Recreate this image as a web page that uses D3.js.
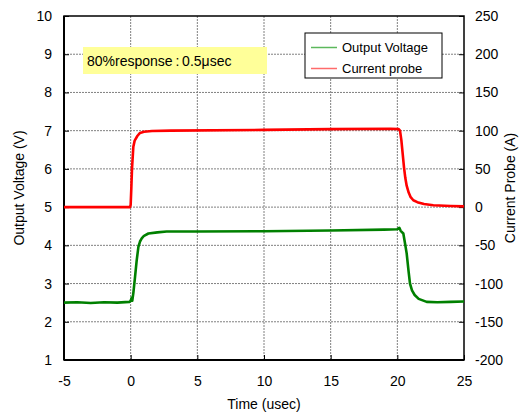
<!DOCTYPE html>
<html>
<head>
<meta charset="utf-8">
<script src="https://d3js.org/d3.v7.min.js"></script>
<style>
  body { margin: 0; background: #fff; }
  text { font-family: Arial, "Liberation Sans", sans-serif; fill: #000; }
</style>
</head>
<body>
<div id="chart"></div>
<script>
// time axis (usec)
var xTicks = [-5, 0, 5, 10, 15, 20, 25];
var yLeftTicks = [1, 2, 3, 4, 5, 6, 7, 8, 9, 10];
var yRightTicks = [-200, -150, -100, -50, 0, 50, 100, 150, 200, 250];

// Output Voltage (V) vs time
var timeV = [-5, -4, -3, -2, -1, -0.1, 0.0, 0.08, 0.12, 0.2, 0.33, 0.45, 0.58, 0.7, 0.83, 1.0, 1.33, 2.0, 2.7, 5, 10, 15, 19, 20, 20.15, 20.25, 20.45, 20.6, 20.7, 20.85, 20.95, 21.1, 21.3, 21.6, 22.2, 23, 24, 25];
var voltage = [2.50, 2.51, 2.49, 2.51, 2.50, 2.52, 2.55, 2.63, 2.55, 2.75, 3.18, 3.6, 3.96, 4.1, 4.18, 4.25, 4.31, 4.34, 4.36, 4.36, 4.37, 4.39, 4.41, 4.42, 4.46, 4.38, 4.31, 4.0, 3.79, 3.3, 3.0, 2.82, 2.7, 2.6, 2.52, 2.51, 2.52, 2.53];

// Current probe (A) vs time
var timeI = [-5, -3, -1, -0.05, 0.0, 0.05, 0.1, 0.2, 0.3, 0.5, 0.7, 1.0, 1.6, 3, 10, 15, 19.5, 20.1, 20.2, 20.3, 20.4, 20.5, 20.6, 20.7, 20.85, 21.0, 21.2, 21.5, 22, 22.7, 24, 25];
var current = [0, 0, 0, 0, 3, 25, 50, 79, 87, 93, 97, 98.5, 99.5, 100, 101, 102, 102.5, 102, 100, 88, 70, 52, 38, 28, 19, 13, 9, 6.5, 4, 2.5, 1.5, 1];

var seriesNames = ["Output Voltage", "Current probe"];
var seriesColors = ["#008000", "#ff0000"];
var legendColors = ["#5cb85c", "#ff6b6b"];

var W = 529, H = 416;
var m = {top: 16, right: 65, bottom: 56, left: 64};
var iw = W - m.left - m.right, ih = H - m.top - m.bottom;

var svg = d3.select("#chart").append("svg")
    .attr("width", W).attr("height", H);
var g = svg.append("g").attr("transform", "translate(" + m.left + "," + m.top + ")");

var x = d3.scaleLinear().domain([-5, 25]).range([0, iw]);
var yL = d3.scaleLinear().domain([1, 10]).range([ih, 0]);
var yR = d3.scaleLinear().domain([-200, 250]).range([ih, 0]);

var fmt = d => String(d);

// grid
g.append("g").selectAll("line").data(xTicks.slice(1, -1)).enter().append("line")
    .attr("x1", d => x(d)).attr("x2", d => x(d)).attr("y1", 0).attr("y2", ih)
    .attr("stroke", "#808080").attr("stroke-width", 1).attr("stroke-dasharray", "2,1");
g.append("g").selectAll("line").data(yLeftTicks.slice(1, -1)).enter().append("line")
    .attr("x1", 0).attr("x2", iw).attr("y1", d => yL(d)).attr("y2", d => yL(d))
    .attr("stroke", "#808080").attr("stroke-width", 1).attr("stroke-dasharray", "2,1");

// axes
var ax = g.append("g").attr("transform", "translate(0," + ih + ")")
    .call(d3.axisBottom(x).tickValues(xTicks).tickFormat(fmt).tickSizeInner(-5).tickSizeOuter(0).tickPadding(16));
var ayl = g.append("g")
    .call(d3.axisLeft(yL).tickValues(yLeftTicks).tickFormat(fmt).tickSizeInner(-5).tickSizeOuter(0).tickPadding(12));
var ayr = g.append("g").attr("transform", "translate(" + iw + ",0)")
    .call(d3.axisRight(yR).tickValues(yRightTicks).tickFormat(fmt).tickSizeInner(-5).tickSizeOuter(0).tickPadding(11));
[ax, ayl, ayr].forEach(function(a){
    a.select(".domain").remove();
    a.selectAll("text").style("font-size", "14px").style("font-family", "Arial, 'Liberation Sans', sans-serif");
    a.selectAll(".tick line").attr("stroke", "#000");
});
ax.selectAll("text").attr("dy", "0.71em");

// frame
g.append("rect").attr("width", iw).attr("height", ih)
    .attr("fill", "none").attr("stroke", "#000").attr("stroke-width", 1.5);
g.append("line").attr("x1", 0).attr("x2", 0).attr("y1", 0).attr("y2", ih)
    .attr("stroke", "#000").attr("stroke-width", 2);
g.append("line").attr("x1", 0).attr("x2", iw).attr("y1", ih).attr("y2", ih)
    .attr("stroke", "#000").attr("stroke-width", 2);

// data lines
var lineV = d3.line().x((d, i) => x(timeV[i])).y(d => yL(d));
var lineI = d3.line().x((d, i) => x(timeI[i])).y(d => yR(d));

g.append("path").datum(voltage).attr("d", lineV)
    .attr("fill", "none").attr("stroke", seriesColors[0]).attr("stroke-width", 2.6)
    .attr("stroke-linejoin", "round");
g.append("path").datum(current).attr("d", lineI)
    .attr("fill", "none").attr("stroke", seriesColors[1]).attr("stroke-width", 2.6)
    .attr("stroke-linejoin", "round");

// annotation
g.append("rect").attr("x", 19).attr("y", 31).attr("width", 184).attr("height", 27)
    .attr("fill", "#ffff99");
g.append("text").attr("x", 23).attr("y", 50).style("font-size", "14px")
    .text("80%response\u2009:\u20090.5\u03BCsec");

// legend
var lg = g.append("g").attr("transform", "translate(" + (305 - m.left) + "," + (33 - m.top) + ")");
lg.append("rect").attr("width", 137).attr("height", 45)
    .attr("fill", "#fff").attr("stroke", "#000").attr("stroke-width", 1);
seriesNames.forEach(function(n, i){
    var yy = 14.5 + i * 21;
    lg.append("line").attr("x1", 6).attr("x2", 32).attr("y1", yy).attr("y2", yy)
        .attr("stroke", legendColors[i]).attr("stroke-width", 1.5);
    lg.append("text").attr("x", 37).attr("y", yy).attr("dy", "0.35em")
        .style("font-size", "13px").text(n);
});

// axis titles
svg.append("text").attr("transform", "translate(24," + (m.top + ih / 2) + ") rotate(-90)")
    .attr("text-anchor", "middle").style("font-size", "14px").text("Output Voltage (V)");
svg.append("text").attr("transform", "translate(515," + (m.top + ih / 2) + ") rotate(-90)")
    .attr("text-anchor", "middle").style("font-size", "14px").text("Current Probe (A)");
svg.append("text").attr("x", m.left + iw / 2).attr("y", 409)
    .attr("text-anchor", "middle").style("font-size", "14px").text("Time (usec)");
</script>
</body>
</html>
